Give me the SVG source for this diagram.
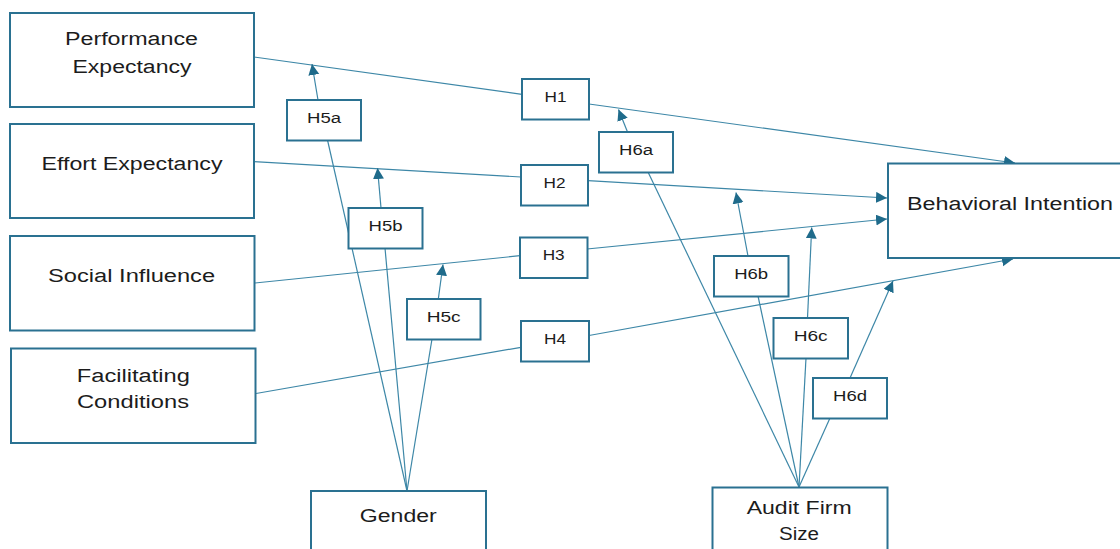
<svg xmlns="http://www.w3.org/2000/svg" width="1120" height="549" viewBox="0 0 1120 549">
<style>
.box{fill:#fff;stroke:#2a7191;stroke-width:2}
.lbl{font-family:"Liberation Sans",Arial,sans-serif;font-size:18px;fill:#1c1c1c;text-anchor:middle}
.hl{font-family:"Liberation Sans",Arial,sans-serif;font-size:14px;fill:#1c1c1c;text-anchor:middle}
.ln{stroke:#3d87a7;stroke-width:1.2;fill:none}
.ar{stroke:#3d87a7;stroke-width:1.2;fill:none;marker-end:url(#ah)}
</style>
<defs>
<marker id="ah" markerUnits="userSpaceOnUse" markerWidth="12" markerHeight="12" refX="11" refY="5.5" orient="auto">
<path d="M0,0 L11,5.5 L0,11 z" fill="#1f6b8b"/>
</marker>
</defs>
<rect width="1120" height="549" fill="#fff"/>
<g id="connectors">
<line class="ln" x1="254" y1="57" x2="522" y2="94.3"/>
<line class="ar" x1="589" y1="104" x2="1015" y2="163"/>
<line class="ln" x1="254" y1="161.7" x2="521" y2="177"/>
<line class="ar" x1="588" y1="180.7" x2="887" y2="198"/>
<line class="ln" x1="255" y1="283" x2="520" y2="255.7"/>
<line class="ar" x1="587" y1="249" x2="887" y2="219"/>
<line class="ln" x1="256" y1="393.5" x2="521" y2="347.3"/>
<line class="ar" x1="589" y1="335.5" x2="1013" y2="259"/>
<line class="ln" x1="407" y1="491" x2="327.5" y2="140"/>
<line class="ar" x1="318" y1="100" x2="312" y2="64"/>
<line class="ln" x1="407" y1="491" x2="385" y2="248"/>
<line class="ar" x1="381" y1="208" x2="377.5" y2="168"/>
<line class="ln" x1="407" y1="491" x2="432" y2="339"/>
<line class="ar" x1="438.3" y1="299" x2="443" y2="264.5"/>
<line class="ln" x1="799" y1="487" x2="648" y2="172"/>
<line class="ar" x1="627.5" y1="132" x2="618.5" y2="109.5"/>
<line class="ln" x1="799" y1="487" x2="758" y2="296"/>
<line class="ar" x1="748" y1="256" x2="736" y2="192.5"/>
<line class="ln" x1="799" y1="487" x2="806" y2="358"/>
<line class="ar" x1="807.5" y1="318" x2="811.7" y2="227.5"/>
<line class="ln" x1="799" y1="487" x2="830" y2="418"/>
<line class="ar" x1="850" y1="378" x2="893" y2="281"/>
</g>
<g id="pe"><rect class="box" x="10" y="13" width="244" height="94"/><text class="lbl" x="131.5" y="45" textLength="133" lengthAdjust="spacingAndGlyphs">Performance</text><text class="lbl" x="132" y="73" textLength="119" lengthAdjust="spacingAndGlyphs">Expectancy</text></g>
<g id="ee"><rect class="box" x="10" y="124" width="244" height="94"/><text class="lbl" x="132" y="170" textLength="181" lengthAdjust="spacingAndGlyphs">Effort Expectancy</text></g>
<g id="si"><rect class="box" x="10" y="236" width="244.5" height="94.5"/><text class="lbl" x="131.6" y="282" textLength="167" lengthAdjust="spacingAndGlyphs">Social Influence</text></g>
<g id="fc"><rect class="box" x="11" y="348.5" width="244.5" height="94.5"/><text class="lbl" x="133.3" y="381.5" textLength="113" lengthAdjust="spacingAndGlyphs">Facilitating</text><text class="lbl" x="133" y="408" textLength="112" lengthAdjust="spacingAndGlyphs">Conditions</text></g>
<g id="bi"><rect class="box" x="888" y="163.5" width="244" height="94.5"/><text class="lbl" x="1010" y="210" textLength="206" lengthAdjust="spacingAndGlyphs">Behavioral Intention</text></g>
<g id="gender"><rect class="box" x="311" y="491" width="175" height="95"/><text class="lbl" x="398.3" y="521.5" textLength="77" lengthAdjust="spacingAndGlyphs">Gender</text></g>
<g id="afs"><rect class="box" x="712.5" y="487.5" width="175" height="95"/><text class="lbl" x="799.2" y="514" textLength="105" lengthAdjust="spacingAndGlyphs">Audit Firm</text><text class="lbl" x="799" y="540" textLength="40" lengthAdjust="spacingAndGlyphs">Size</text></g>
<g id="h1"><rect class="box" x="522" y="79" width="67" height="40.5"/><text class="hl" x="555.5" y="101.7" textLength="22" lengthAdjust="spacingAndGlyphs">H1</text></g>
<g id="h2"><rect class="box" x="521" y="165" width="67" height="40.5"/><text class="hl" x="554.5" y="187.7" textLength="22" lengthAdjust="spacingAndGlyphs">H2</text></g>
<g id="h3"><rect class="box" x="520" y="237.5" width="67.5" height="40.5"/><text class="hl" x="553.7" y="260" textLength="22" lengthAdjust="spacingAndGlyphs">H3</text></g>
<g id="h4"><rect class="box" x="521" y="321" width="68" height="40.5"/><text class="hl" x="555" y="343.7" textLength="22" lengthAdjust="spacingAndGlyphs">H4</text></g>
<g id="h5a"><rect class="box" x="287" y="100" width="74" height="40.5"/><text class="hl" x="324" y="122.7" textLength="34" lengthAdjust="spacingAndGlyphs">H5a</text></g>
<g id="h5b"><rect class="box" x="348.5" y="208" width="74" height="40.5"/><text class="hl" x="385.5" y="230.7" textLength="34" lengthAdjust="spacingAndGlyphs">H5b</text></g>
<g id="h5c"><rect class="box" x="407" y="299" width="73.5" height="40.5"/><text class="hl" x="443.7" y="321.7" textLength="34" lengthAdjust="spacingAndGlyphs">H5c</text></g>
<g id="h6a"><rect class="box" x="599" y="132" width="74" height="40.5"/><text class="hl" x="636" y="154.7" textLength="34" lengthAdjust="spacingAndGlyphs">H6a</text></g>
<g id="h6b"><rect class="box" x="714" y="256" width="74.5" height="40.5"/><text class="hl" x="751.2" y="278.7" textLength="34" lengthAdjust="spacingAndGlyphs">H6b</text></g>
<g id="h6c"><rect class="box" x="773.5" y="318" width="74.5" height="40.5"/><text class="hl" x="810.7" y="340.7" textLength="34" lengthAdjust="spacingAndGlyphs">H6c</text></g>
<g id="h6d"><rect class="box" x="813" y="378" width="74" height="40.5"/><text class="hl" x="850" y="400.7" textLength="34" lengthAdjust="spacingAndGlyphs">H6d</text></g>
</svg>
